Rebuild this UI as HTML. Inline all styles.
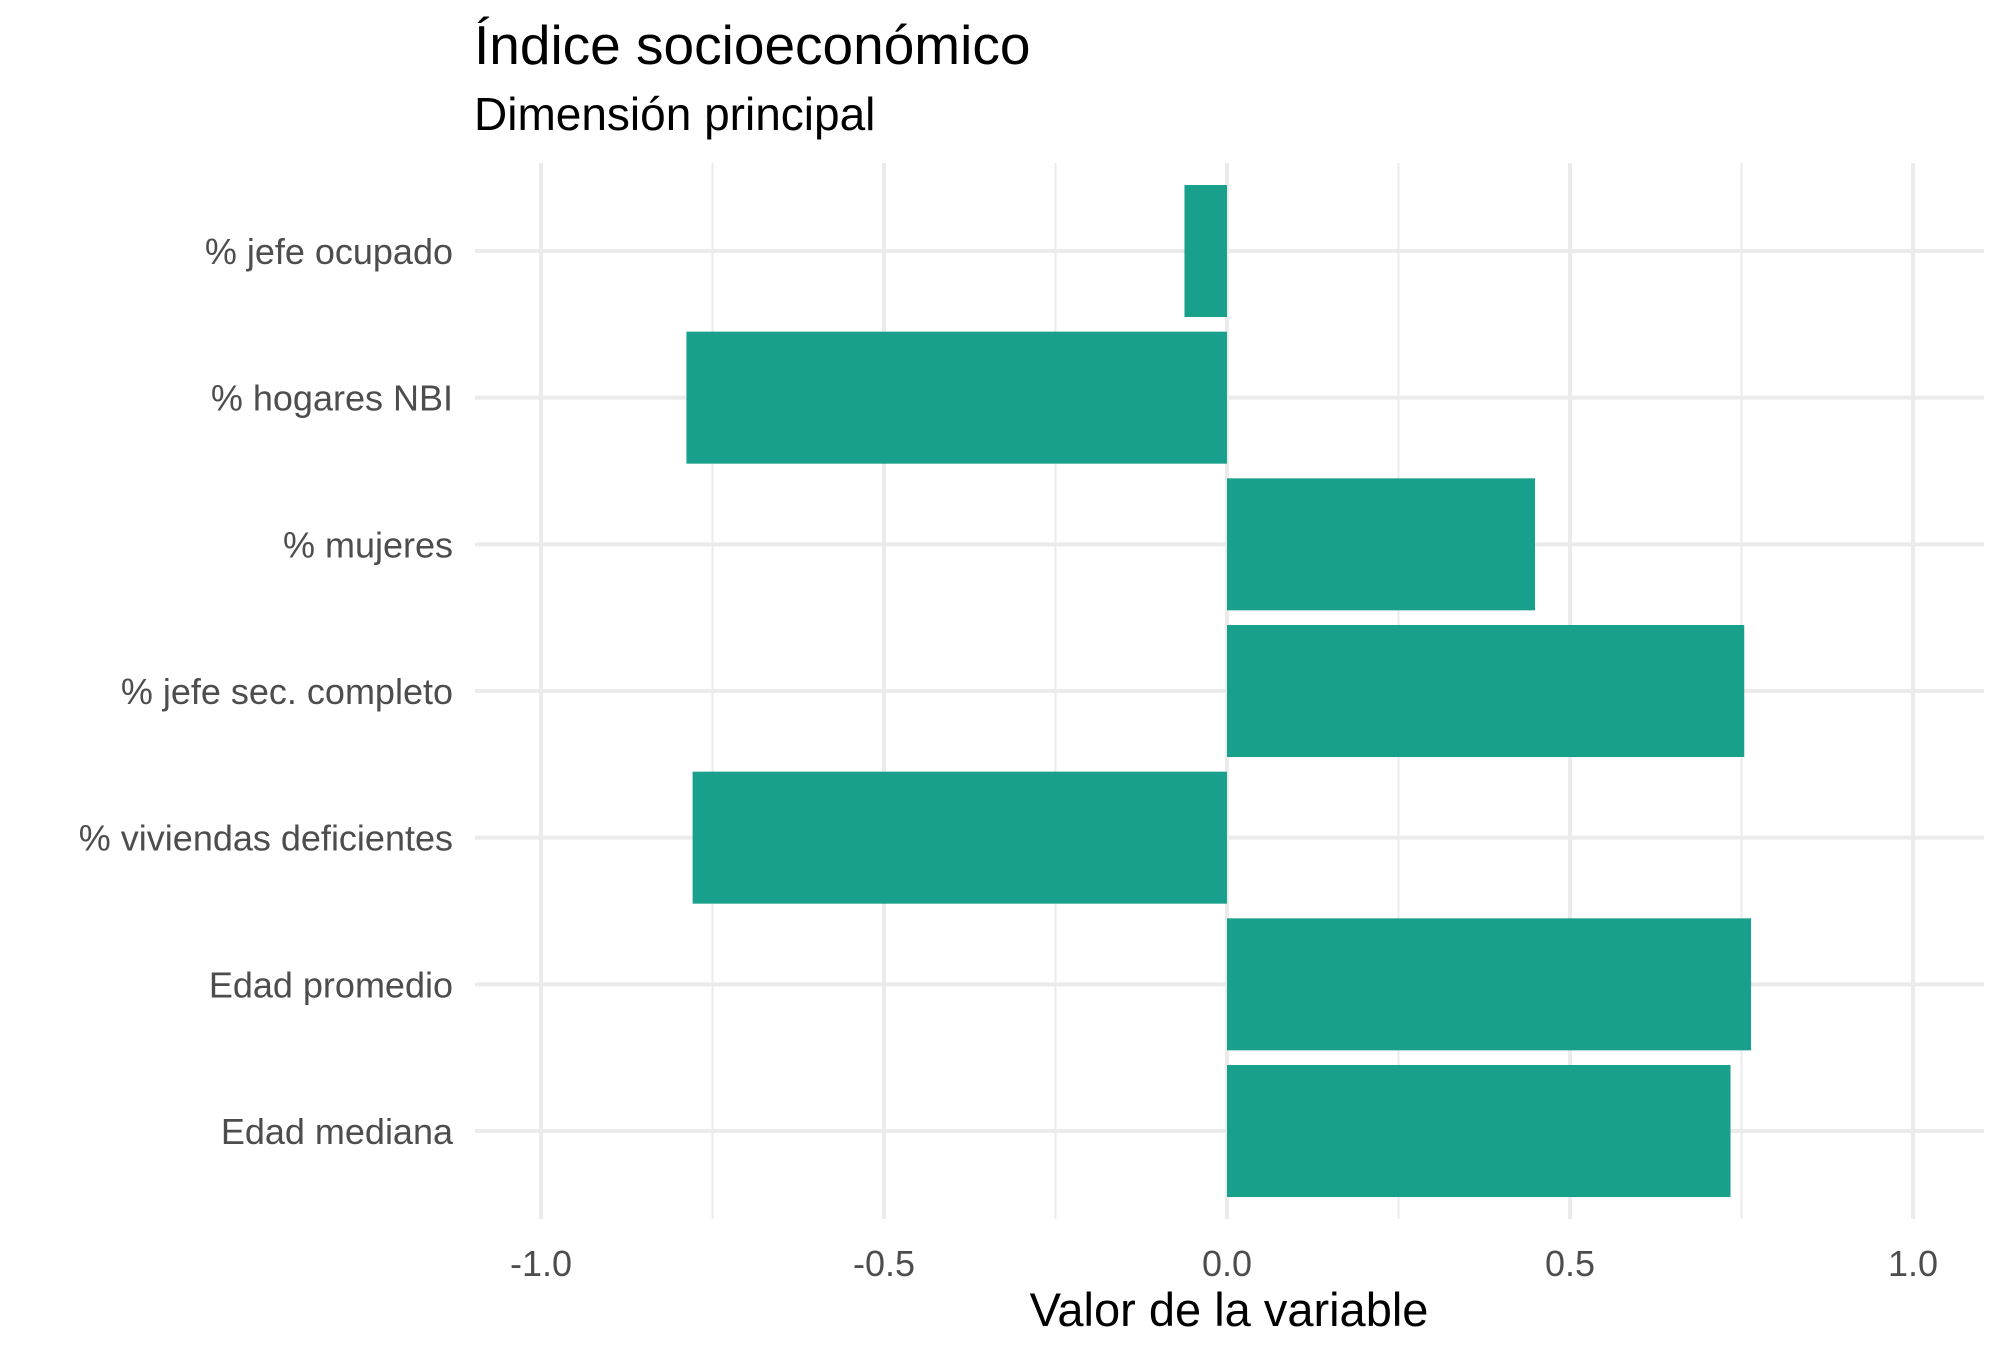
<!DOCTYPE html>
<html><head><meta charset="utf-8"><style>
html,body{margin:0;padding:0;background:#fff;}
svg{display:block;font-family:"Liberation Sans",sans-serif;}
</style></head><body>
<svg id="chart" width="2006" height="1356" viewBox="0 0 2006 1356" xmlns="http://www.w3.org/2000/svg">
<text x="474" y="64" font-size="55" fill="#000">Índice socioeconómico</text>
<text x="474" y="130" font-size="46" fill="#000">Dimensión principal</text>
<g id="grid"></g>
<g id="bars"></g>
<g id="ylabels"></g>
<g id="xlabels"></g>
<text x="1229" y="1326" font-size="47" text-anchor="middle" fill="#000">Valor de la variable</text>
</svg>
<script>
const categories = ["% jefe ocupado","% hogares NBI","% mujeres","% jefe sec. completo","% viviendas deficientes","Edad promedio","Edad mediana"];
const values = [-0.062,-0.788,0.449,0.754,-0.779,0.764,0.734];
const xTicks = [-1.0,-0.5,0.0,0.5,1.0];
const xTickLabels = ["-1.0","-0.5","0.0","0.5","1.0"];
const xMinor = [-0.75,-0.25,0.25,0.75];

const NS="http://www.w3.org/2000/svg";
const panel={left:475,right:1984,top:163,bottom:1219};
function xs(v){return 1227+v*686;}
const step=(panel.bottom-panel.top)/(categories.length+0.2);
function ys(i){return panel.top+(0.6+i)*step;}
function mk(tag,attrs,parent){const e=document.createElementNS(NS,tag);for(const k in attrs)e.setAttribute(k,attrs[k]);parent.appendChild(e);return e;}
const grid=document.getElementById('grid');
xMinor.forEach(v=>{
  const l=mk('line',{x1:xs(v),x2:xs(v),y1:panel.top,y2:panel.bottom,stroke:'#ebebeb','stroke-width':2},grid);
  
  
});
xTicks.forEach(v=>{
  const l=mk('line',{x1:xs(v),x2:xs(v),y1:panel.top,y2:panel.bottom,stroke:'#ebebeb','stroke-width':4},grid);
  
  
});
categories.forEach((c,i)=>{
  const l=mk('line',{x1:panel.left,x2:panel.right,y1:ys(i),y2:ys(i),stroke:'#ebebeb','stroke-width':4},grid);
  
  
});
const bars=document.getElementById('bars');
const bh=step*0.9;
values.forEach((v,i)=>{
  const x0=Math.min(xs(0),xs(v)), w=Math.abs(xs(v)-xs(0));
  const r=mk('rect',{x:x0,y:ys(i)-bh/2,width:w,height:bh,fill:'#19a08c'},bars);
  
  
});
const yl=document.getElementById('ylabels');
categories.forEach((c,i)=>{
  const t=mk('text',{x:453,y:ys(i)+13,'font-size':36,'text-anchor':'end',fill:'#4d4d4d'},yl);
  t.textContent=c;
  
  
});
const xl=document.getElementById('xlabels');
xTicks.forEach((v,i)=>{
  const t=mk('text',{x:xs(v),y:1276,'font-size':36,'text-anchor':'middle',fill:'#4d4d4d'},xl);
  t.textContent=xTickLabels[i];
  
  
});
</script>
</body></html>
